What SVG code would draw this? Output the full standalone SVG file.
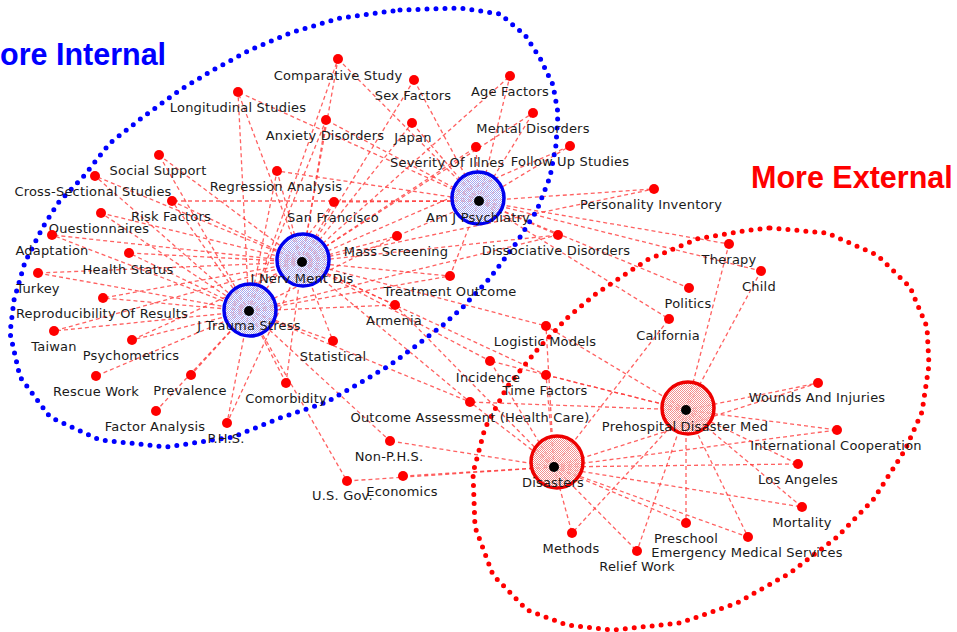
<svg xmlns="http://www.w3.org/2000/svg" width="957" height="632" viewBox="0 0 957 632">
<style>
.lbl{font-family:"DejaVu Sans","Liberation Sans",sans-serif;font-size:13px;fill:#1a1a1a;text-anchor:middle;letter-spacing:0.2px}
.st{text-anchor:start}
.e line{stroke:#ff3a3a;stroke-width:1.3;stroke-dasharray:4 3;opacity:0.8}
.dot{fill:#ff0000}
.hubb{fill:url(#ditherB);stroke:#0000ee;stroke-width:3.5}
.hubr{fill:url(#ditherR);stroke:#ee0000;stroke-width:3.5}
.core{fill:#000}
.loopb{fill:none;stroke:#0000ff;stroke-width:5;stroke-linecap:round;stroke-linejoin:round;stroke-dasharray:0 9}
.loopr{fill:none;stroke:#ff0000;stroke-width:5;stroke-linecap:round;stroke-linejoin:round;stroke-dasharray:0 9}
.title{font-family:"Liberation Sans",Arial,sans-serif;font-size:30.5px;font-weight:bold}
</style>
<defs>
<pattern id="ditherB" width="2" height="2" patternUnits="userSpaceOnUse"><rect x="0" y="0" width="1" height="1" fill="#a8a8ee"/><rect x="1" y="1" width="1" height="1" fill="#a8a8ee"/><rect x="1" y="0" width="1" height="1" fill="#ffffff" fill-opacity="0.6"/><rect x="0" y="1" width="1" height="1" fill="#ffffff" fill-opacity="0.6"/></pattern>
<pattern id="ditherR" width="2" height="2" patternUnits="userSpaceOnUse"><rect x="0" y="0" width="1" height="1" fill="#f29090"/><rect x="1" y="1" width="1" height="1" fill="#f29090"/><rect x="1" y="0" width="1" height="1" fill="#ffffff" fill-opacity="0.6"/><rect x="0" y="1" width="1" height="1" fill="#ffffff" fill-opacity="0.6"/></pattern>
</defs>
<rect width="957" height="632" fill="#ffffff"/>

<g id="connectors" class="e">
<!-- Am J Psychiatry -->
<line x1="479" y1="201" x2="338" y2="59"/>
<line x1="479" y1="201" x2="414" y2="80"/>
<line x1="479" y1="201" x2="510" y2="76"/>
<line x1="479" y1="201" x2="412" y2="123"/>
<line x1="479" y1="201" x2="533" y2="113"/>
<line x1="479" y1="201" x2="476" y2="147"/>
<line x1="479" y1="201" x2="570" y2="146"/>
<line x1="479" y1="201" x2="326" y2="120"/>
<line x1="479" y1="201" x2="238" y2="92"/>
<line x1="479" y1="201" x2="277" y2="171"/>
<line x1="479" y1="201" x2="334" y2="202"/>
<line x1="479" y1="201" x2="397" y2="236"/>
<line x1="479" y1="201" x2="450" y2="276"/>
<line x1="479" y1="201" x2="558" y2="235"/>
<line x1="479" y1="201" x2="654" y2="189"/>
<line x1="479" y1="201" x2="729" y2="244"/>
<line x1="479" y1="201" x2="761" y2="271"/>
<line x1="479" y1="201" x2="689" y2="288"/>
<line x1="479" y1="201" x2="669" y2="319"/>
<line x1="479" y1="201" x2="172" y2="201"/>
<!-- J Nerv Ment Dis -->
<line x1="302" y1="262" x2="338" y2="59"/>
<line x1="302" y1="262" x2="414" y2="80"/>
<line x1="302" y1="262" x2="510" y2="76"/>
<line x1="302" y1="262" x2="412" y2="123"/>
<line x1="302" y1="262" x2="533" y2="113"/>
<line x1="302" y1="262" x2="476" y2="147"/>
<line x1="302" y1="262" x2="570" y2="146"/>
<line x1="302" y1="262" x2="326" y2="120"/>
<line x1="302" y1="262" x2="238" y2="92"/>
<line x1="302" y1="262" x2="277" y2="171"/>
<line x1="302" y1="262" x2="334" y2="202"/>
<line x1="302" y1="262" x2="159" y2="155"/>
<line x1="302" y1="262" x2="95" y2="176"/>
<line x1="302" y1="262" x2="172" y2="201"/>
<line x1="302" y1="262" x2="101" y2="213"/>
<line x1="302" y1="262" x2="52" y2="235"/>
<line x1="302" y1="262" x2="129" y2="253"/>
<line x1="302" y1="262" x2="38" y2="273"/>
<line x1="302" y1="262" x2="103" y2="298"/>
<line x1="302" y1="262" x2="54" y2="331"/>
<line x1="302" y1="262" x2="132" y2="340"/>
<line x1="302" y1="262" x2="333" y2="341"/>
<line x1="302" y1="262" x2="286" y2="383"/>
<line x1="302" y1="262" x2="397" y2="236"/>
<line x1="302" y1="262" x2="450" y2="276"/>
<line x1="302" y1="262" x2="395" y2="305"/>
<line x1="302" y1="262" x2="654" y2="189"/>
<line x1="302" y1="262" x2="558" y2="235"/>
<line x1="302" y1="262" x2="546" y2="326"/>
<line x1="302" y1="262" x2="490" y2="361"/>
<line x1="302" y1="262" x2="546" y2="375"/>
<line x1="302" y1="262" x2="470" y2="402"/>
<line x1="302" y1="262" x2="227" y2="423"/>
<!-- J Trauma Stress -->
<line x1="249" y1="311" x2="238" y2="92"/>
<line x1="249" y1="311" x2="326" y2="120"/>
<line x1="249" y1="311" x2="277" y2="171"/>
<line x1="249" y1="311" x2="334" y2="202"/>
<line x1="249" y1="311" x2="159" y2="155"/>
<line x1="249" y1="311" x2="95" y2="176"/>
<line x1="249" y1="311" x2="172" y2="201"/>
<line x1="249" y1="311" x2="101" y2="213"/>
<line x1="249" y1="311" x2="52" y2="235"/>
<line x1="249" y1="311" x2="129" y2="253"/>
<line x1="249" y1="311" x2="38" y2="273"/>
<line x1="249" y1="311" x2="103" y2="298"/>
<line x1="249" y1="311" x2="54" y2="331"/>
<line x1="249" y1="311" x2="132" y2="340"/>
<line x1="249" y1="311" x2="96" y2="376"/>
<line x1="249" y1="311" x2="191" y2="375"/>
<line x1="249" y1="311" x2="156" y2="411"/>
<line x1="249" y1="311" x2="227" y2="423"/>
<line x1="249" y1="311" x2="286" y2="383"/>
<line x1="249" y1="311" x2="333" y2="341"/>
<line x1="249" y1="311" x2="397" y2="236"/>
<line x1="249" y1="311" x2="450" y2="276"/>
<line x1="249" y1="311" x2="395" y2="305"/>
<line x1="249" y1="311" x2="470" y2="402"/>
<line x1="249" y1="311" x2="390" y2="441"/>
<line x1="249" y1="311" x2="347" y2="481"/>
<line x1="249" y1="311" x2="338" y2="59"/>
<line x1="249" y1="311" x2="558" y2="235"/>
<!-- Disasters -->
<line x1="554" y1="467" x2="546" y2="326"/>
<line x1="554" y1="467" x2="546" y2="375"/>
<line x1="554" y1="467" x2="490" y2="361"/>
<line x1="554" y1="467" x2="470" y2="402"/>
<line x1="554" y1="467" x2="390" y2="441"/>
<line x1="554" y1="467" x2="403" y2="476"/>
<line x1="554" y1="467" x2="347" y2="481"/>
<line x1="554" y1="467" x2="669" y2="319"/>
<line x1="554" y1="467" x2="572" y2="533"/>
<line x1="554" y1="467" x2="637" y2="551"/>
<line x1="554" y1="467" x2="686" y2="523"/>
<line x1="554" y1="467" x2="748" y2="537"/>
<line x1="554" y1="467" x2="802" y2="507"/>
<line x1="554" y1="467" x2="798" y2="464"/>
<line x1="554" y1="467" x2="837" y2="430"/>
<line x1="554" y1="467" x2="818" y2="383"/>
<line x1="554" y1="467" x2="395" y2="305"/>
<!-- Prehospital Disaster Med -->
<line x1="686" y1="410" x2="729" y2="244"/>
<line x1="686" y1="410" x2="761" y2="271"/>
<line x1="686" y1="410" x2="546" y2="375"/>
<line x1="686" y1="410" x2="470" y2="402"/>
<line x1="686" y1="410" x2="490" y2="361"/>
<line x1="686" y1="410" x2="546" y2="326"/>
<line x1="686" y1="410" x2="818" y2="383"/>
<line x1="686" y1="410" x2="837" y2="430"/>
<line x1="686" y1="410" x2="798" y2="464"/>
<line x1="686" y1="410" x2="802" y2="507"/>
<line x1="686" y1="410" x2="748" y2="537"/>
<line x1="686" y1="410" x2="686" y2="523"/>
<line x1="686" y1="410" x2="637" y2="551"/>
<line x1="686" y1="410" x2="572" y2="533"/>
</g>

<g id="cluster-internal">
<path class="loopb" d="M400,10 L460,8 L500,14 L525,35 L540,58 L553,85 L558,113 L556,145 L550,177 L537,210 L517,242 L490,278 L463,307 L443,325 L413,348 L390,365 L360,383 L327,402 L280,418 L233,437 L167,447 L100,440 L50,417 L20,377 L10,333 L14,300 L25,262 L43,227 L58,203 L83,177 L110,143 L143,117 L180,90 L213,70 L250,50 L290,33 L340,18 Z"/>
<text class="title" x="0" y="65" fill="#0000ff">ore Internal</text>
</g>
<g id="cluster-external">
<path class="loopr" d="M770,228 L827,233 L877,255 L910,287 L927,327 L929,365 L922,412 L905,450 L873,500 L837,537 L790,573 L737,603 L680,623 L613,630 L567,625 L527,610 L493,575 L475,527 L473,473 L485,428 L507,387 L537,350 L567,318 L597,293 L647,260 L697,239 L743,231 Z"/>
<text class="title" x="751" y="188" fill="#ff0000">More External</text>
</g>

<g id="nodes">
<g id="n-comparative"><circle class="dot" cx="338" cy="59" r="5"/><text class="lbl" x="338" y="80">Comparative Study</text></g>
<g id="n-sexfactors"><circle class="dot" cx="414" cy="80" r="5"/><text class="lbl" x="413" y="100">Sex Factors</text></g>
<g id="n-agefactors"><circle class="dot" cx="510" cy="76" r="5"/><text class="lbl" x="510" y="96">Age Factors</text></g>
<g id="n-longitudinal"><circle class="dot" cx="238" cy="92" r="5"/><text class="lbl" x="238" y="112">Longitudinal Studies</text></g>
<g id="n-anxiety"><circle class="dot" cx="326" cy="120" r="5"/><text class="lbl" x="325" y="140">Anxiety Disorders</text></g>
<g id="n-japan"><circle class="dot" cx="412" cy="123" r="5"/><text class="lbl" x="413" y="142">Japan</text></g>
<g id="n-mental"><circle class="dot" cx="533" cy="113" r="5"/><text class="lbl" x="533" y="133">Mental Disorders</text></g>
<g id="n-severity"><circle class="dot" cx="476" cy="147" r="5"/><text class="lbl st" x="390" y="167">Severity Of Illnes</text></g>
<g id="n-followup"><circle class="dot" cx="570" cy="146" r="5"/><text class="lbl" x="570" y="166">Follow Up Studies</text></g>
<g id="n-regression"><circle class="dot" cx="277" cy="171" r="5"/><text class="lbl" x="276" y="191">Regression Analysis</text></g>
<g id="n-sanfrancisco"><circle class="dot" cx="334" cy="202" r="5"/><text class="lbl" x="333" y="222">San Francisco</text></g>
<g id="n-socialsupport"><circle class="dot" cx="159" cy="155" r="5"/><text class="lbl" x="158" y="175">Social Support</text></g>
<g id="n-crosssectional"><circle class="dot" cx="95" cy="176" r="5"/><text class="lbl" x="93" y="196">Cross-Sectional Studies</text></g>
<g id="n-riskfactors"><circle class="dot" cx="172" cy="201" r="5"/><text class="lbl" x="171" y="221">Risk Factors</text></g>
<g id="n-questionnaires"><circle class="dot" cx="101" cy="213" r="5"/><text class="lbl" x="99" y="233">Questionnaires</text></g>
<g id="n-adaptation"><circle class="dot" cx="52" cy="235" r="5"/><text class="lbl" x="52" y="255">Adaptation</text></g>
<g id="n-healthstatus"><circle class="dot" cx="129" cy="253" r="5"/><text class="lbl" x="128" y="274">Health Status</text></g>
<g id="n-turkey"><circle class="dot" cx="38" cy="273" r="5"/><text class="lbl" x="38" y="293">Turkey</text></g>
<g id="n-reproducibility"><circle class="dot" cx="103" cy="298" r="5"/><text class="lbl" x="102" y="318">Reproducibility Of Results</text></g>
<g id="n-taiwan"><circle class="dot" cx="54" cy="331" r="5"/><text class="lbl" x="54" y="351">Taiwan</text></g>
<g id="n-psychometrics"><circle class="dot" cx="132" cy="340" r="5"/><text class="lbl" x="131" y="360">Psychometrics</text></g>
<g id="n-rescuework"><circle class="dot" cx="96" cy="376" r="5"/><text class="lbl" x="96" y="396">Rescue Work</text></g>
<g id="n-prevalence"><circle class="dot" cx="191" cy="375" r="5"/><text class="lbl" x="190" y="395">Prevalence</text></g>
<g id="n-factoranalysis"><circle class="dot" cx="156" cy="411" r="5"/><text class="lbl" x="155" y="431">Factor Analysis</text></g>
<g id="n-phs"><circle class="dot" cx="227" cy="423" r="5"/><text class="lbl" x="226" y="443">P.H.S.</text></g>
<g id="n-comorbidity"><circle class="dot" cx="286" cy="383" r="5"/><text class="lbl" x="286" y="403">Comorbidity</text></g>
<g id="n-statistical"><circle class="dot" cx="333" cy="341" r="5"/><text class="lbl" x="333" y="361">Statistical</text></g>
<g id="n-massscreening"><circle class="dot" cx="397" cy="236" r="5"/><text class="lbl" x="396" y="256">Mass Screening</text></g>
<g id="n-treatmentoutcome"><circle class="dot" cx="450" cy="276" r="5"/><text class="lbl" x="450" y="296">Treatment Outcome</text></g>
<g id="n-armenia"><circle class="dot" cx="395" cy="305" r="5"/><text class="lbl" x="394" y="325">Armenia</text></g>
<g id="n-personality"><circle class="dot" cx="654" cy="189" r="5"/><text class="lbl" x="651" y="209">Personality Inventory</text></g>
<g id="n-dissociative"><circle class="dot" cx="558" cy="235" r="5"/><text class="lbl" x="556" y="255">Dissociative Disorders</text></g>
<g id="n-therapy"><circle class="dot" cx="729" cy="244" r="5"/><text class="lbl" x="729" y="264">Therapy</text></g>
<g id="n-child"><circle class="dot" cx="761" cy="271" r="5"/><text class="lbl" x="759" y="291">Child</text></g>
<g id="n-politics"><circle class="dot" cx="689" cy="288" r="5"/><text class="lbl" x="688" y="308">Politics</text></g>
<g id="n-california"><circle class="dot" cx="669" cy="319" r="5"/><text class="lbl" x="668" y="340">California</text></g>
<g id="n-logistic"><circle class="dot" cx="546" cy="326" r="5"/><text class="lbl" x="545" y="346">Logistic Models</text></g>
<g id="n-incidence"><circle class="dot" cx="490" cy="361" r="5"/><text class="lbl" x="488" y="382">Incidence</text></g>
<g id="n-timefactors"><circle class="dot" cx="546" cy="375" r="5"/><text class="lbl" x="545" y="395">Time Factors</text></g>
<g id="n-outcomeassessment"><circle class="dot" cx="470" cy="402" r="5"/><text class="lbl" x="470" y="422">Outcome Assessment (Health Care)</text></g>
<g id="n-nonphs"><circle class="dot" cx="390" cy="441" r="5"/><text class="lbl" x="389" y="461">Non-P.H.S.</text></g>
<g id="n-usgov"><circle class="dot" cx="347" cy="481" r="5"/><text class="lbl st" x="312" y="500">U.S. Gov.</text></g>
<g id="n-economics"><circle class="dot" cx="403" cy="476" r="5"/><text class="lbl" x="402" y="496">Economics</text></g>
<g id="n-methods"><circle class="dot" cx="572" cy="533" r="5"/><text class="lbl" x="571" y="553">Methods</text></g>
<g id="n-reliefwork"><circle class="dot" cx="637" cy="551" r="5"/><text class="lbl" x="637" y="571">Relief Work</text></g>
<g id="n-preschool"><circle class="dot" cx="686" cy="523" r="5"/><text class="lbl" x="686" y="543">Preschool</text></g>
<g id="n-ems"><circle class="dot" cx="748" cy="537" r="5"/><text class="lbl" x="747" y="557">Emergency Medical Services</text></g>
<g id="n-mortality"><circle class="dot" cx="802" cy="507" r="5"/><text class="lbl" x="802" y="527">Mortality</text></g>
<g id="n-losangeles"><circle class="dot" cx="798" cy="464" r="5"/><text class="lbl" x="798" y="484">Los Angeles</text></g>
<g id="n-intlcoop"><circle class="dot" cx="837" cy="430" r="5"/><text class="lbl" x="836" y="450">International Cooperation</text></g>
<g id="n-wounds"><circle class="dot" cx="818" cy="383" r="5"/><text class="lbl" x="817" y="402">Wounds And Injuries</text></g>

<g id="hub-amjpsychiatry"><circle class="hubb" cx="478" cy="198" r="26"/><circle class="core" cx="479" cy="201" r="5"/><text class="lbl" x="478" y="222">Am J Psychiatry</text></g>
<g id="hub-jnervmentdis"><circle class="hubb" cx="303" cy="260" r="26"/><circle class="core" cx="302" cy="262" r="5"/><text class="lbl" x="302" y="283">J Nerv Ment Dis</text></g>
<g id="hub-jtraumastress"><circle class="hubb" cx="250" cy="310" r="26"/><circle class="core" cx="249" cy="311" r="5"/><text class="lbl" x="249" y="330">J Trauma Stress</text></g>
<g id="hub-disasters"><circle class="hubr" cx="557" cy="462" r="26"/><circle class="core" cx="554" cy="467" r="5"/><text class="lbl" x="553" y="487">Disasters</text></g>
<g id="hub-prehospital"><circle class="hubr" cx="688" cy="408" r="26"/><circle class="core" cx="686" cy="410" r="5"/><text class="lbl" x="685" y="431">Prehospital Disaster Med</text></g>
</g>
</svg>
